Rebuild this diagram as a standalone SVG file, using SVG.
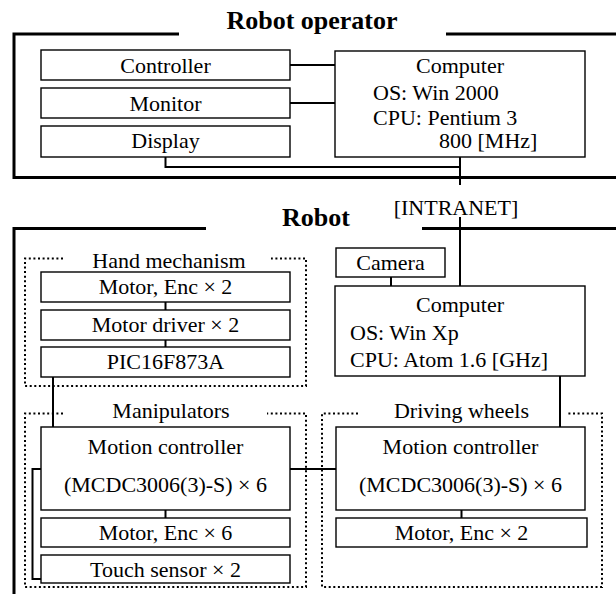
<svg xmlns="http://www.w3.org/2000/svg" width="616" height="594" viewBox="0 0 616 594">
<style>
  text { font-family: "Liberation Serif", "Times New Roman", serif; font-size: 22px; fill: #000; }
  .title { font-weight: bold; font-size: 26px; text-anchor: middle; }
  .c { text-anchor: middle; }
  .box { fill: #fff; stroke: #000; stroke-width: 1.4; }
  .frame { fill: none; stroke: #000; stroke-width: 3; }
  .dot { fill: none; stroke: #000; stroke-width: 2; stroke-dasharray: 2 2.6; }
  .wire { fill: none; stroke: #000; stroke-width: 2; }
</style>
<rect width="616" height="594" fill="#fff"/>

<!-- Frames -->
<g id="frames">
  <polyline class="frame" points="179,34 14,34 14,177.5 616,177.5"/>
  <line class="frame" x1="446" y1="34" x2="616" y2="34"/>
  <text class="title" x="312" y="29">Robot operator</text>
  <polyline class="frame" points="206,228.5 14,228.5 14,594"/>
  <line class="frame" x1="422" y1="228.5" x2="616" y2="228.5"/>
  <text class="title" x="316" y="226">Robot</text>
</g>

<!-- Group frames (dotted) -->
<g id="hand-mechanism">
  <polyline class="dot" points="63,258.5 25,258.5 25,386 306,386 306,258.5 271,258.5"/>
  <text class="c" x="169" y="268">Hand mechanism</text>
</g>
<g id="manipulators">
  <polyline class="dot" points="63,413.5 25,413.5 25,587 306,587 306,413.5 267,413.5"/>
  <text class="c" x="171" y="418">Manipulators</text>
</g>
<g id="driving-wheels">
  <polyline class="dot" points="358,413.5 322,413.5 322,587 602,587 602,413.5 566,413.5"/>
  <text class="c" x="461.5" y="418">Driving wheels</text>
</g>

<!-- Connectors -->
<g id="connectors">
  <line class="wire" x1="290" y1="65" x2="335" y2="65"/>
  <line class="wire" x1="290" y1="103" x2="335" y2="103"/>
  <polyline class="wire" points="165.5,157 165.5,167 460,167"/>
  <line class="wire" x1="460" y1="157" x2="460" y2="185"/>
  <line class="wire" x1="460" y1="217" x2="460" y2="286"/>
  <line class="wire" x1="391" y1="277" x2="391" y2="286"/>
  <line class="wire" x1="165.5" y1="302" x2="165.5" y2="310"/>
  <line class="wire" x1="165.5" y1="340" x2="165.5" y2="347"/>
  <line class="wire" x1="53" y1="377" x2="53" y2="427"/>
  <line class="wire" x1="560" y1="376" x2="560" y2="427"/>
  <line class="wire" x1="290" y1="469" x2="336" y2="469"/>
  <line class="wire" x1="165.5" y1="510" x2="165.5" y2="518"/>
  <line class="wire" x1="461.5" y1="510" x2="461.5" y2="518"/>
  <polyline class="wire" points="41,469 32.5,469 32.5,579 41,579"/>
</g>

<text class="c" x="456" y="215">[INTRANET]</text>

<!-- Operator side nodes -->
<g id="controller">
  <rect class="box" x="41" y="50" width="249" height="30"/>
  <text class="c" x="165.5" y="73">Controller</text>
</g>
<g id="monitor">
  <rect class="box" x="41" y="88" width="249" height="30"/>
  <text class="c" x="165.5" y="111">Monitor</text>
</g>
<g id="display">
  <rect class="box" x="41" y="126" width="249" height="31"/>
  <text class="c" x="165.5" y="148">Display</text>
</g>
<g id="operator-computer">
  <rect class="box" x="335" y="51" width="250" height="106"/>
  <text class="c" x="460" y="73">Computer</text>
  <text x="373" y="100">OS: Win 2000</text>
  <text x="373" y="125">CPU: Pentium 3</text>
  <text x="439" y="148">800 [MHz]</text>
</g>

<!-- Robot side nodes -->
<g id="motor-enc-hand">
  <rect class="box" x="41" y="272" width="249" height="30"/>
  <text class="c" x="165.5" y="294">Motor, Enc × 2</text>
</g>
<g id="motor-driver">
  <rect class="box" x="41" y="310" width="249" height="30"/>
  <text class="c" x="165.5" y="332">Motor driver × 2</text>
</g>
<g id="pic">
  <rect class="box" x="41" y="347" width="249" height="30"/>
  <text class="c" x="165.5" y="369">PIC16F873A</text>
</g>
<g id="camera">
  <rect class="box" x="336" y="248" width="109" height="29"/>
  <text class="c" x="390.5" y="270">Camera</text>
</g>
<g id="robot-computer">
  <rect class="box" x="335" y="286" width="250" height="90"/>
  <text class="c" x="460" y="312">Computer</text>
  <text x="350" y="340">OS: Win Xp</text>
  <text x="350" y="367">CPU: Atom 1.6 [GHz]</text>
</g>
<g id="motion-controller-manip">
  <rect class="box" x="41" y="427" width="249" height="83"/>
  <text class="c" x="165.5" y="454">Motion controller</text>
  <text class="c" x="165.5" y="492">(MCDC3006(3)-S) × 6</text>
</g>
<g id="motor-enc-manip">
  <rect class="box" x="41" y="518" width="249" height="29"/>
  <text class="c" x="165.5" y="540">Motor, Enc × 6</text>
</g>
<g id="touch-sensor">
  <rect class="box" x="41" y="555" width="249" height="28"/>
  <text class="c" x="165.5" y="577">Touch sensor × 2</text>
</g>
<g id="motion-controller-drive">
  <rect class="box" x="336" y="427" width="249" height="83"/>
  <text class="c" x="460.5" y="454">Motion controller</text>
  <text class="c" x="460.5" y="492">(MCDC3006(3)-S) × 6</text>
</g>
<g id="motor-enc-drive">
  <rect class="box" x="336" y="518" width="251" height="29"/>
  <text class="c" x="461.5" y="540">Motor, Enc × 2</text>
</g>
</svg>
